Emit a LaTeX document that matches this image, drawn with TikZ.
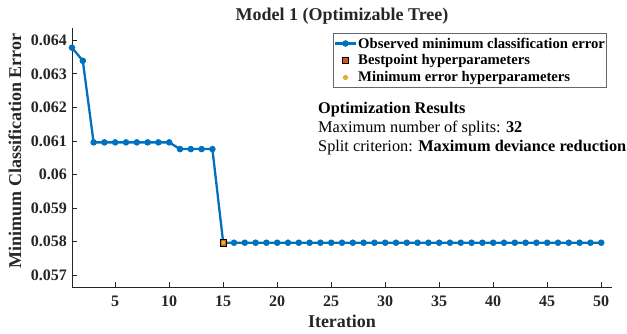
\documentclass[tikz,border=0pt]{standalone}
\usepackage{fontspec}
\setmainfont{Liberation Serif}
\usetikzlibrary{positioning}

\definecolor{lineblue}{RGB}{0,114,189}
\definecolor{bestorange}{RGB}{217,83,25}
\definecolor{minyellow}{RGB}{237,177,32}
\definecolor{axisgray}{RGB}{38,38,38}

\begin{document}
\begin{tikzpicture}[x=1pt, y=-1pt,
        axis_style/.style={draw=axisgray, line width=0.9pt},
        ticklabel_style/.style={text=axisgray, inner sep=0pt, font=\fontsize{16}{16}\selectfont\bfseries},
        label_style/.style={text=axisgray, inner sep=0pt, font=\fontsize{18}{18}\selectfont\bfseries},
        data_style/.style={draw=lineblue, line width=2.3pt, line join=round},
        best_style/.style={rectangle, draw=black, fill=bestorange, line width=0.8pt, minimum size=6.5pt, inner sep=0pt},
        minerr_style/.style={circle, draw=minyellow!80!black, fill=minyellow, line width=0.3pt, minimum size=4.5pt, inner sep=0pt},
        legend_style/.style={draw=axisgray!70, fill=white, line width=0.8pt},
        legendtext_style/.style={anchor=west, inner sep=0pt, font=\fontsize{14.7}{14.7}\selectfont\bfseries},
        result_style/.style={anchor=base west, inner sep=0pt, font=\fontsize{16.3}{16.3}\selectfont}]

        \useasboundingbox (0,0) rectangle (627,334);

        % axes
        \coordinate (origin) at (72,287);
        \coordinate (ytop) at (72,28);
        \coordinate (xend) at (612,287);
        \draw [axis_style] (ytop) -- (origin) -- (xend);

        \foreach \it in {5,10,...,50} {
            \draw [axis_style] ({72+(\it-1)*10.8},287) -- ++(0,-5);
            \node [ticklabel_style, anchor=base] (xt\it) at ({72+(\it-1)*10.8},306.5) {\it};
        }
        \foreach \k/\lab in {57/0.057, 58/0.058, 59/0.059, 60/0.06, 61/0.061, 62/0.062, 63/0.063, 64/0.064} {
            \draw [axis_style] (72,{275.3-(\k-57)*33.57}) -- ++(5,0);
            \node [ticklabel_style, anchor=east] (yt\k) at (67,{275.3-(\k-57)*33.57}) {\lab};
        }

        \node [label_style, anchor=base] (title) at (342,21) {Model 1 (Optimizable Tree)};
        \node [label_style, anchor=base] (xlab) at (342,327) {Iteration};
        \node [label_style, anchor=base, rotate=90] (ylab) at (21,151) {Minimum Classification Error};

        % observed minimum error
        \foreach \i in {1,...,50} {
            \pgfmathsetmacro\v{\i==1 ? 63.78 : (\i==2 ? 63.39 : (\i<11 ? 60.96 : (\i<15 ? 60.76 : 57.97)))}
            \coordinate (p\i) at ({72+(\i-1)*10.8},{275.3-(\v-57)*33.57});
        }
        \draw [data_style] (p1) \foreach \i in {2,...,50} {-- (p\i)};
        \foreach \i in {1,...,50} \fill [lineblue] (p\i) circle (3.3pt);

        \node [best_style] (best) at (p15) {};
        \node [minerr_style] (minerr) at (p15) {};

        % legend
        \draw [legend_style] (333,33) rectangle (606,87);
        \coordinate (l1a) at (335,43.5);
        \coordinate (l1b) at (356,43.5);
        \draw [data_style] (l1a) -- (l1b);
        \fill [lineblue] (345.5,43.5) circle (3.3pt);
        \node [legendtext_style] (leg1) at (358,43.5) {Observed minimum classification error};
        \node [best_style] (legbest) at (345.5,60.5) {};
        \node [legendtext_style] (leg2) at (358,60.5) {Bestpoint hyperparameters};
        \node [minerr_style] (legmin) at (345.5,77.5) {};
        \node [legendtext_style] (leg3) at (358,77.5) {Minimum error hyperparameters};

        % results
        \node [result_style] (res1) at (318,114) {\bfseries Optimization Results};
        \node [result_style] (res2) at (318,133) {Maximum number of splits: \textbf{32}};
        \node [result_style] (res3) at (318,152) {Split criterion: \textbf{Maximum deviance reduction}};

        \end{tikzpicture}
\end{document}
